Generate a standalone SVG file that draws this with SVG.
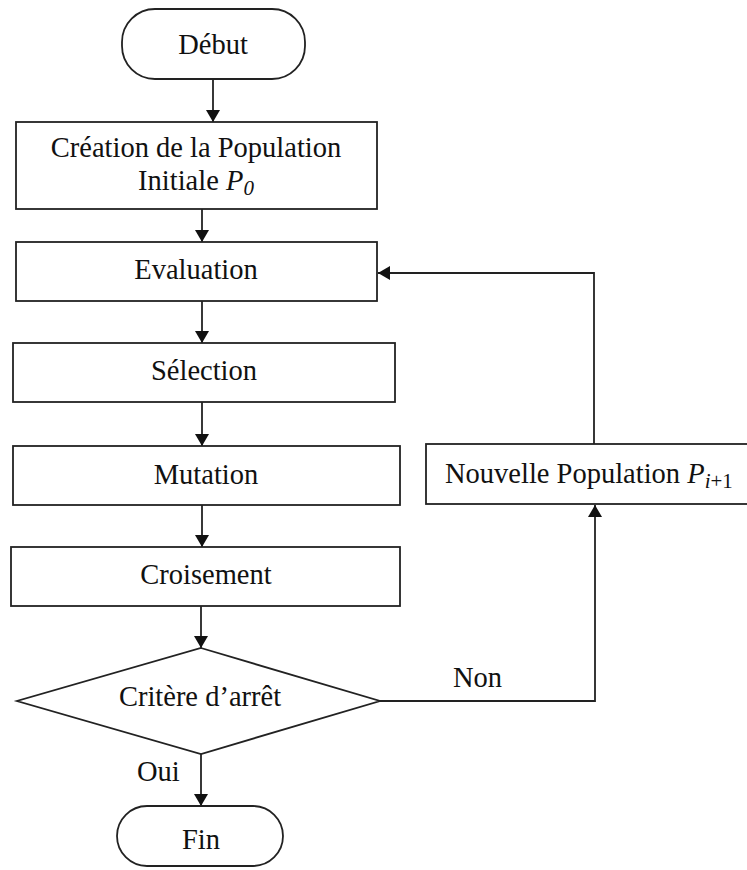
<svg xmlns="http://www.w3.org/2000/svg" width="747" height="870" viewBox="0 0 747 870">
<defs>
<style>
.box{fill:#fff;stroke:#222;stroke-width:1.8}
.t{font-family:"Liberation Serif","Times New Roman",serif;font-size:28.5px;fill:#111;text-anchor:middle}
.lbl{font-family:"Liberation Serif","Times New Roman",serif;font-size:28.5px;fill:#111}
.c{fill:none;stroke:#222;stroke-width:1.8}
</style>
<marker id="ah" viewBox="0 0 12 14" refX="12" refY="7" markerWidth="12" markerHeight="14" markerUnits="userSpaceOnUse" orient="auto">
<path d="M0,0 L12,7 L0,14 Z" fill="#111"/>
</marker>
</defs>
<rect width="747" height="870" fill="#fff"/>
<g id="connectors">
<line class="c" x1="213" y1="79" x2="213" y2="122" marker-end="url(#ah)"/>
<line class="c" x1="202" y1="209" x2="202" y2="242" marker-end="url(#ah)"/>
<line class="c" x1="202" y1="301" x2="202" y2="343" marker-end="url(#ah)"/>
<line class="c" x1="202" y1="402" x2="202" y2="446" marker-end="url(#ah)"/>
<line class="c" x1="202" y1="505" x2="202" y2="547" marker-end="url(#ah)"/>
<line class="c" x1="201" y1="606" x2="201" y2="648" marker-end="url(#ah)"/>
<line class="c" x1="201" y1="754" x2="201" y2="806" marker-end="url(#ah)"/>
<polyline class="c" points="380,701 595,701 595,505" marker-end="url(#ah)"/>
<polyline class="c" points="594,444 594,273 378,273" marker-end="url(#ah)"/>
<text class="lbl" x="453" y="687">Non</text>
<text class="lbl" x="137" y="781">Oui</text>
</g>
<g id="debut">
<rect class="box" x="122" y="9" width="183" height="70" rx="33" ry="33"/>
<text class="t" x="213" y="54">Début</text>
</g>
<g id="creation">
<rect class="box" x="16" y="122" width="361" height="87"/>
<text class="t" x="196" y="157">Création de la Population</text>
<text class="t" x="196" y="190">Initiale <tspan font-style="italic">P</tspan><tspan font-style="italic" font-size="21" dy="5">0</tspan></text>
</g>
<g id="evaluation">
<rect class="box" x="16" y="242" width="361" height="59"/>
<text class="t" x="196" y="279">Evaluation</text>
</g>
<g id="selection">
<rect class="box" x="13" y="343" width="382" height="59"/>
<text class="t" x="204" y="380">Sélection</text>
</g>
<g id="mutation">
<rect class="box" x="13" y="446" width="387" height="59"/>
<text class="t" x="206" y="484">Mutation</text>
</g>
<g id="croisement">
<rect class="box" x="11" y="547" width="389" height="59"/>
<text class="t" x="206" y="584">Croisement</text>
</g>
<g id="critere">
<polygon class="box" points="201,648 380,701 201,754 17,701"/>
<text class="t" x="200" y="706">Critère d’arrêt</text>
</g>
<g id="fin">
<rect class="box" x="117" y="806" width="166" height="60" rx="30" ry="30"/>
<text class="t" x="201" y="849">Fin</text>
</g>
<g id="nouvelle">
<rect class="box" x="426" y="444" width="330" height="60"/>
<text class="lbl" x="445" y="483">Nouvelle Population <tspan font-style="italic">P</tspan><tspan font-style="italic" font-size="21" dy="5">i</tspan><tspan font-size="21">+1</tspan></text>
</g>
</svg>
